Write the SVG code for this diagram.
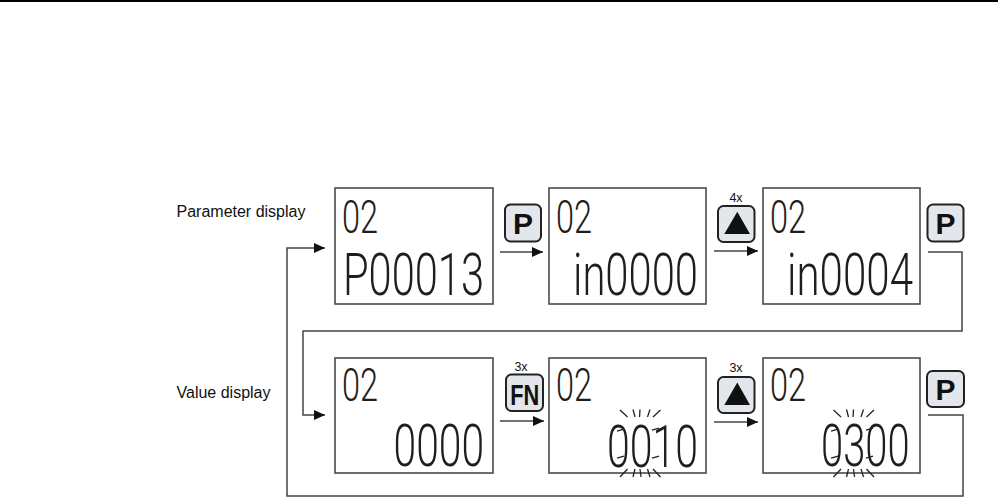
<svg xmlns="http://www.w3.org/2000/svg" width="998" height="499" viewBox="0 0 998 499">
<style>
.panel{fill:#fff;stroke:#4a4a4a;stroke-width:1.6}
.btn{fill:#e3e6ea;stroke:#222;stroke-width:2}
.btxt{font-family:"Liberation Sans",Arial,sans-serif;font-weight:bold;font-size:30px;fill:#111;text-anchor:middle}
.lbl{font-family:"Liberation Sans",Arial,sans-serif;font-size:16px;fill:#111}
.cnt{font-family:"Liberation Sans",Arial,sans-serif;font-size:12.5px;fill:#111;text-anchor:middle}
.lcd{font-family:Roboto,Lato,Inter,"DejaVu Sans",sans-serif;font-weight:300;fill:#1e1e1e}
.sm{font-size:47px}
.bg{font-size:60px}
.conn{fill:none;stroke:#444;stroke-width:1.5}
.ray{stroke:#222;stroke-width:1.3;fill:none}
</style>
<defs>
<marker id="ah" markerWidth="11" markerHeight="10" refX="11" refY="5" orient="auto" markerUnits="userSpaceOnUse">
<path d="M0,0 L11,5 L0,10 z" fill="#111"/>
</marker>
</defs>
<line x1="0" y1="1" x2="998" y2="1" stroke="#000" stroke-width="2"/>
<text class="lbl" x="176.5" y="217">Parameter display</text>
<text class="lbl" x="176.5" y="398">Value display</text>
<g id="connectors">
<path class="conn" d="M500,252 H543" marker-end="url(#ah)"/>
<path class="conn" d="M714,251 H758" marker-end="url(#ah)"/>
<path class="conn" d="M500,421 H544" marker-end="url(#ah)"/>
<path class="conn" d="M714,422 H758" marker-end="url(#ah)"/>
<path class="conn" d="M928,252 H962 V331 H303 V415 H325" marker-end="url(#ah)"/>
<path class="conn" d="M928,415 H963 V496 H287 V248 H325" marker-end="url(#ah)"/>
</g>
<g id="panel1">
<rect class="panel" x="335" y="188" width="158" height="116"/>
<text class="lcd sm" x="342" y="232.5" textLength="36" lengthAdjust="spacingAndGlyphs">02</text>
<text class="lcd bg" x="343" y="294.5" textLength="141" lengthAdjust="spacingAndGlyphs">P00013</text>
</g>
<g id="panel2">
<rect class="panel" x="549" y="188" width="157" height="116"/>
<text class="lcd sm" x="556" y="232.5" textLength="36" lengthAdjust="spacingAndGlyphs">02</text>
<text class="lcd bg" x="573" y="295" textLength="125" lengthAdjust="spacingAndGlyphs">in0000</text>
</g>
<g id="panel3">
<rect class="panel" x="763" y="188" width="157" height="116"/>
<text class="lcd sm" x="770" y="232.5" textLength="36" lengthAdjust="spacingAndGlyphs">02</text>
<text class="lcd bg" x="787" y="295" textLength="126" lengthAdjust="spacingAndGlyphs">in0004</text>
</g>
<g id="panel4">
<rect class="panel" x="335" y="358" width="158" height="115"/>
<text class="lcd sm" x="342" y="401" textLength="36" lengthAdjust="spacingAndGlyphs">02</text>
<text class="lcd bg" x="393.5" y="466" textLength="90.5" lengthAdjust="spacingAndGlyphs">0000</text>
</g>
<g id="panel5">
<rect class="panel" x="549" y="358" width="157" height="115"/>
<text class="lcd sm" x="556" y="401" textLength="36" lengthAdjust="spacingAndGlyphs">02</text>
<text class="lcd bg" x="607" y="466.5" textLength="91" lengthAdjust="spacingAndGlyphs">0010</text>
<g class="ray">
<line x1="620" y1="410" x2="627.5" y2="417"/>
<line x1="633" y1="409.5" x2="635" y2="417"/>
<line x1="640" y1="409.5" x2="639.5" y2="417"/>
<line x1="650" y1="409.5" x2="647.5" y2="417"/>
<line x1="660.5" y1="410" x2="653" y2="417"/>
<line x1="627.5" y1="469" x2="620" y2="477"/>
<line x1="635" y1="469" x2="633" y2="477"/>
<line x1="640" y1="469" x2="641" y2="477"/>
<line x1="647.5" y1="469" x2="650" y2="477"/>
<line x1="653" y1="469" x2="660.5" y2="477"/>
<line x1="617" y1="431" x2="624" y2="429"/>
<line x1="652" y1="430" x2="659" y2="428"/>
<line x1="617" y1="458" x2="624" y2="456"/>
<line x1="652" y1="458" x2="659" y2="456"/>
</g>
</g>
<g id="panel6">
<rect class="panel" x="763" y="358" width="157" height="115"/>
<text class="lcd sm" x="770" y="401" textLength="36" lengthAdjust="spacingAndGlyphs">02</text>
<text class="lcd bg" x="821" y="465.5" textLength="88.5" lengthAdjust="spacingAndGlyphs">0300</text>
<g class="ray">
<line x1="833.5" y1="410" x2="841" y2="417"/>
<line x1="846.5" y1="409.5" x2="848.5" y2="417"/>
<line x1="853.5" y1="409.5" x2="853" y2="417"/>
<line x1="863.5" y1="409.5" x2="861" y2="417"/>
<line x1="874" y1="410" x2="866.5" y2="417"/>
<line x1="841" y1="469" x2="833.5" y2="477"/>
<line x1="848.5" y1="469" x2="846.5" y2="477"/>
<line x1="853.5" y1="469" x2="854.5" y2="477"/>
<line x1="861" y1="469" x2="863.5" y2="477"/>
<line x1="866.5" y1="469" x2="874" y2="477"/>
<line x1="831" y1="431" x2="838" y2="429"/>
<line x1="866" y1="430" x2="873" y2="428"/>
<line x1="831" y1="458" x2="838" y2="456"/>
<line x1="866" y1="458" x2="873" y2="456"/>
</g>
</g>
<g id="btnP1">
<rect class="btn" x="505" y="204.5" width="36" height="37" rx="5.5"/>
<text class="btxt" x="523" y="233.5">P</text>
</g>
<g id="btnUp1">
<text class="cnt" x="736" y="202">4x</text>
<rect class="btn" x="718" y="206" width="36.5" height="36" rx="5.5"/>
<polygon points="737.3,211.7 750,234 724.3,234" fill="#111"/>
</g>
<g id="btnP2">
<rect class="btn" x="927.5" y="204.5" width="36" height="37" rx="5.5"/>
<text class="btxt" x="945.5" y="233.5">P</text>
</g>
<g id="btnFN">
<text class="cnt" x="521" y="371">3x</text>
<rect class="btn" x="506" y="374.5" width="37" height="36.5" rx="5.5"/>
<text class="btxt" x="524.7" y="405" textLength="29" lengthAdjust="spacingAndGlyphs">FN</text>
</g>
<g id="btnUp2">
<text class="cnt" x="736" y="372">3x</text>
<rect class="btn" x="718" y="377" width="36.5" height="36" rx="5.5"/>
<polygon points="737.3,382.5 750,405 724.3,405" fill="#111"/>
</g>
<g id="btnP3">
<rect class="btn" x="927" y="371" width="37" height="36" rx="5.5"/>
<text class="btxt" x="945.5" y="400">P</text>
</g>
</svg>
